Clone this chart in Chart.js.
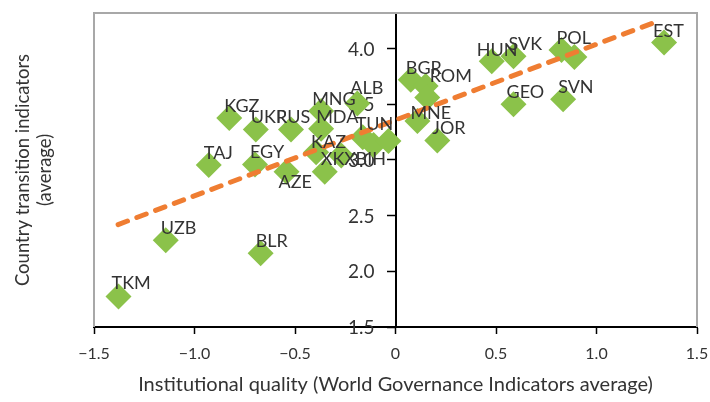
<!DOCTYPE html>
<html>
<head>
<meta charset="utf-8">
<script src="https://cdn.jsdelivr.net/npm/chart.js@4"></script>
<style>
  body { margin: 0; background: #fff; }
  #wrap { width: 710px; height: 402px; }
</style>
</head>
<body>
<div id="wrap"><canvas id="grafico"></canvas></div>
<script>
// datos
const countries = ["TKM", "UZB", "BLR", "TAJ", "EGY", "AZE", "KGZ", "UKR", "RUS", "MNG", "MDA", "KAZ", "XKX", "", "ALB", "TUN", "BIH", "", "BGR", "ROM", "", "MNE", "JOR", "HUN", "SVK", "POL", "", "GEO", "SVN", "EST"];
const govScore = [-1.378, -1.143, -0.671, -0.929, -0.699, -0.542, -0.827, -0.695, -0.52, -0.37, -0.37, -0.395, -0.352, -0.27, -0.19, -0.163, -0.109, -0.035, 0.076, 0.15, 0.158, 0.109, 0.208, 0.479, 0.587, 0.826, 0.89, 0.587, 0.834, 1.336];
const transScore = [1.775, 2.279, 2.163, 2.954, 2.959, 2.894, 3.377, 3.273, 3.273, 3.44, 3.28, 3.07, 2.894, 3.04, 3.507, 3.205, 3.134, 3.17, 3.72, 3.665, 3.56, 3.35, 3.176, 3.886, 3.931, 3.987, 3.925, 3.501, 3.545, 4.055];

// linea de tendencia
const trendX = [-1.38, 1.31];
const trendY = [2.42, 4.25];

const xTicks = [-1.5, -1, -0.5, 0, 0.5, 1, 1.5];
const xTickLabels = ["\u22121.5", "\u22121.0", "\u22120.5", "0", "0.5", "1.0", "1.5"];
const yTicks = [1.5, 2, 2.5, 3, 3.5, 4];
const yTickLabels = ["1.5", "2.0", "2.5", "3.0", "3.5", "4.0"];

// desplazamiento de etiquetas (px) cuando no es el por defecto
const labelNudge = {
  TKM: [-7, -13], RUS: [-15, -12], MNG: [-9, -12], ALB: [-7, -15], TUN: [-7, -13],
  KAZ: [-5, -10], XKX: [-4, -13], BIH: [-18, 14], AZE: [-8, 10], ROM: [4, -10],
  MNE: [-7, -8], HUN: [-15, -11], EST: [-11, -11], GEO: [-7, -12]
};

const FONT = "Lato, 'Open Sans', sans-serif";
const TXT = "#333333";

const marcoPlugin = {
  id: "marco",
  beforeDatasetsDraw(chart) {
    const { ctx, chartArea: a } = chart;
    ctx.save();
    ctx.strokeStyle = "#a8a8a8";
    ctx.lineWidth = 2;
    ctx.beginPath();
    ctx.moveTo(a.left, a.bottom);
    ctx.lineTo(a.left, a.top);
    ctx.lineTo(a.right, a.top);
    ctx.lineTo(a.right, a.bottom);
    ctx.stroke();

    // etiquetas del eje y, a la izquierda del eje en x = 0
    const xs = chart.scales.x;
    const ys = chart.scales.y;
    const ax = xs.getPixelForValue(0);
    ctx.font = "19px " + FONT;
    ctx.fillStyle = TXT;
    ctx.textAlign = "right";
    ctx.textBaseline = "middle";
    yTicks.forEach((v, i) => {
      ctx.fillText(yTickLabels[i], ax - 21, ys.getPixelForValue(v) + 1);
    });
    ctx.restore();
  }
};

const etiquetasPlugin = {
  id: "etiquetas",
  afterDatasetsDraw(chart) {
    const { ctx } = chart;
    const meta = chart.getDatasetMeta(1);
    ctx.save();
    ctx.font = "18px " + FONT;
    ctx.fillStyle = TXT;
    ctx.textAlign = "left";
    ctx.textBaseline = "middle";
    meta.data.forEach((pt, i) => {
      const name = countries[i];
      if (!name) return;
      const [dx, dy] = labelNudge[name] || [-5, -12];
      ctx.fillText(name, pt.x + dx, pt.y + dy);
    });
    ctx.restore();
  }
};

new Chart(document.getElementById("grafico"), {
  data: {
    datasets: [
      {
        type: "line",
        data: trendX.map((x, i) => ({ x, y: trendY[i] })),
        borderColor: "#ef7d32",
        borderWidth: 5,
        borderDash: [10, 10],
        borderCapStyle: "round",
        pointRadius: 0,
        fill: false,
        order: 0
      },
      {
        type: "scatter",
        data: govScore.map((x, i) => ({ x, y: transScore[i] })),
        backgroundColor: "#8bc24a",
        borderWidth: 0,
        pointStyle: "rectRot",
        pointRadius: 13,
        pointHoverRadius: 13,
        order: 1
      }
    ]
  },
  options: {
    responsive: true,
    maintainAspectRatio: false,
    animation: false,
    layout: { padding: { top: 6, right: 9, left: 0, bottom: 0 } },
    plugins: { legend: { display: false }, tooltip: { enabled: false } },
    scales: {
      x: {
        type: "linear",
        position: "bottom",
        min: -1.5,
        max: 1.5,
        afterBuildTicks: (s) => { s.ticks = xTicks.map((v) => ({ value: v })); },
        afterFit: (s) => { s.height = 75; s.paddingLeft = 0; s.paddingRight = 0; },
        ticks: {
          callback: (v) => xTickLabels[xTicks.indexOf(v)],
          font: { family: FONT, size: 16 },
          color: TXT,
          padding: 10
        },
        grid: { drawOnChartArea: false, tickLength: 7, color: "#000", tickWidth: 1.5 },
        border: { color: "#000", width: 2 },
        title: {
          display: true,
          text: "Institutional quality (World Governance Indicators average)",
          font: { family: FONT, size: 20 },
          color: TXT,
          padding: { top: 2, bottom: 5 }
        }
      },
      y: {
        type: "linear",
        position: { x: 0 },
        min: 1.5,
        max: 4.32,
        afterBuildTicks: (s) => { s.ticks = yTicks.map((v) => ({ value: v })); },
        afterFit: (s) => { s.paddingTop = 0; s.paddingBottom = 0; },
        ticks: { display: false },
        grid: { drawOnChartArea: false, tickLength: 8, color: "#000", tickWidth: 1.5 },
        border: { color: "#000", width: 2 }
      },
      yt: {
        type: "linear",
        position: "left",
        min: 0,
        max: 1,
        afterFit: (s) => { s.width = 94; s.paddingTop = 0; s.paddingBottom = 0; },
        ticks: { display: false },
        grid: { display: false },
        border: { display: false },
        title: {
          display: true,
          text: ["Country transition indicators", "(average)"],
          font: { family: FONT, size: 18.5 },
          color: TXT,
          padding: { top: 12, bottom: 0 }
        }
      }
    }
  },
  plugins: [marcoPlugin, etiquetasPlugin]
});
</script>
</body>
</html>
